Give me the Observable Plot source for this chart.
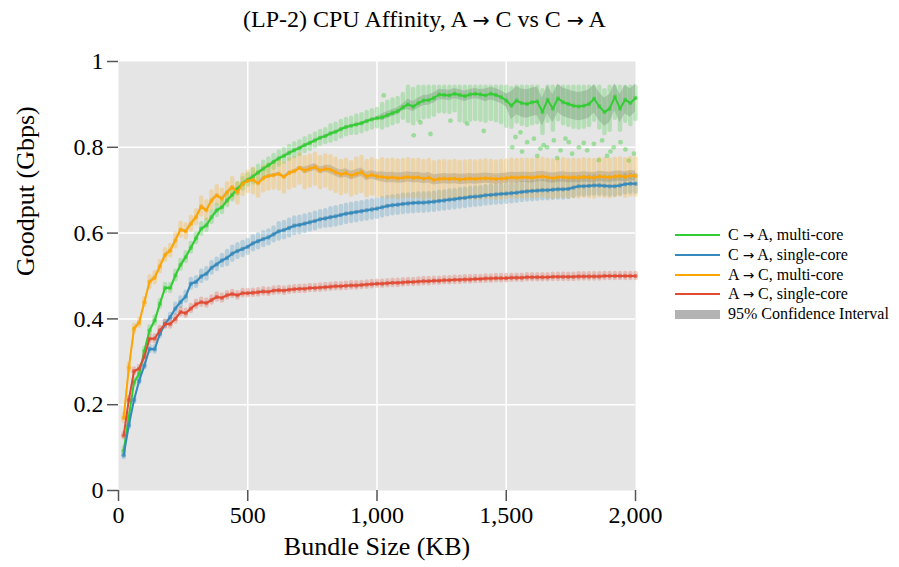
<!DOCTYPE html>
<html>
<head>
<meta charset="utf-8">
<script src="https://cdn.jsdelivr.net/npm/d3@7"></script>
<script src="https://cdn.jsdelivr.net/npm/@observablehq/plot@0.6"></script>
<style>
  body { margin: 0; background: #fff; }
  #wrap { position: relative; width: 899px; height: 567px; font-family: "Liberation Serif", serif; color: #000; }
  #title { height: 36px; padding-top: 4px; line-height: 30px; font-size: 24px; text-align: center; width: 517px; margin-left: 166px; white-space: nowrap; }
  #legend { position: absolute; left: 675px; top: 225px; font-size: 16px; }
  .row { position: absolute; left: 0; height: 20px; white-space: nowrap; }
  .sw { position: absolute; left: 0; top: 9px; width: 45px; height: 2px; }
  .lab { position: absolute; left: 53px; top: 0; line-height: 20px; }
  .arr { font-family: "DejaVu Sans", sans-serif; font-size: 0.85em; }
</style>
</head>
<body>
<div id="wrap">
  <div id="title"></div>
  <div id="chart"></div>
  <div id="legend"></div>
</div>
<script>
const titleText = "(LP-2) CPU Affinity, A → C vs C → A";

// Bundle sizes (KB)
const bundleSizes = [20,40,60,80,100,120,140,160,180,200,220,240,260,280,300,320,340,360,380,400,
  420,440,460,480,500,520,540,560,580,600,620,640,660,680,700,720,740,760,780,800,
  820,840,860,880,900,920,940,960,980,1000,1020,1040,1060,1080,1100,1120,1140,1160,1180,1200,
  1220,1240,1260,1280,1300,1320,1340,1360,1380,1400,1420,1440,1460,1480,1500,1520,1540,1560,1580,1600,
  1620,1640,1660,1680,1700,1720,1740,1760,1780,1800,1820,1840,1860,1880,1900,1920,1940,1960,1980,2000];

// Mean goodput (Gbps)
const caMultiMean = [0.093,0.171,0.252,0.272,0.325,0.373,0.396,0.435,0.472,0.472,0.501,0.526,0.544,0.566,0.588,0.610,0.618,0.637,0.653,0.660,
  0.676,0.689,0.703,0.715,0.724,0.732,0.741,0.750,0.758,0.766,0.774,0.780,0.787,0.793,0.798,0.805,0.810,0.816,0.822,0.826,
  0.832,0.836,0.842,0.847,0.850,0.853,0.856,0.861,0.865,0.868,0.870,0.875,0.880,0.884,0.893,0.900,0.895,0.903,0.909,0.910,
  0.915,0.923,0.922,0.921,0.925,0.922,0.919,0.923,0.925,0.923,0.921,0.925,0.922,0.917,0.909,0.897,0.909,0.903,0.901,0.905,
  0.907,0.882,0.911,0.890,0.914,0.905,0.901,0.897,0.895,0.897,0.901,0.913,0.895,0.882,0.890,0.918,0.890,0.911,0.903,0.915];
const caSingleMean = [0.082,0.152,0.211,0.256,0.291,0.330,0.329,0.365,0.388,0.404,0.424,0.439,0.452,0.482,0.486,0.499,0.505,0.519,0.527,0.536,
  0.542,0.552,0.558,0.563,0.568,0.576,0.581,0.586,0.590,0.597,0.604,0.607,0.612,0.617,0.619,0.622,0.625,0.628,0.632,0.634,
  0.637,0.639,0.642,0.645,0.647,0.649,0.651,0.653,0.655,0.657,0.660,0.663,0.665,0.666,0.668,0.669,0.670,0.671,0.671,0.672,
  0.673,0.675,0.676,0.678,0.679,0.681,0.682,0.684,0.685,0.686,0.688,0.689,0.690,0.691,0.692,0.693,0.694,0.696,0.697,0.698,
  0.699,0.700,0.700,0.701,0.702,0.702,0.703,0.706,0.709,0.709,0.710,0.711,0.711,0.710,0.709,0.709,0.711,0.714,0.715,0.715];
const acMultiMean = [0.169,0.286,0.377,0.391,0.439,0.486,0.496,0.522,0.549,0.559,0.583,0.608,0.604,0.622,0.637,0.662,0.653,0.676,0.688,0.680,
  0.695,0.707,0.695,0.715,0.722,0.724,0.716,0.728,0.733,0.735,0.738,0.731,0.740,0.744,0.752,0.746,0.750,0.754,0.746,0.750,
  0.748,0.742,0.737,0.740,0.734,0.738,0.742,0.732,0.736,0.732,0.731,0.729,0.730,0.728,0.729,0.731,0.729,0.730,0.727,0.729,
  0.724,0.726,0.727,0.726,0.727,0.725,0.726,0.727,0.726,0.727,0.728,0.727,0.726,0.727,0.728,0.730,0.729,0.730,0.730,0.729,
  0.731,0.732,0.730,0.728,0.730,0.731,0.729,0.730,0.729,0.731,0.730,0.729,0.732,0.731,0.730,0.732,0.733,0.731,0.734,0.733];
const acSingleMean = [0.128,0.211,0.278,0.284,0.312,0.354,0.354,0.373,0.388,0.388,0.400,0.416,0.413,0.424,0.434,0.439,0.437,0.444,0.451,0.449,
  0.455,0.458,0.455,0.460,0.460,0.461,0.462,0.464,0.463,0.466,0.467,0.466,0.468,0.469,0.470,0.470,0.472,0.472,0.473,0.474,
  0.475,0.476,0.476,0.477,0.478,0.478,0.479,0.480,0.481,0.482,0.482,0.483,0.484,0.484,0.485,0.486,0.486,0.487,0.488,0.488,
  0.489,0.489,0.490,0.490,0.491,0.491,0.492,0.492,0.493,0.493,0.494,0.494,0.495,0.495,0.495,0.496,0.496,0.496,0.497,0.497,
  0.497,0.497,0.497,0.498,0.498,0.498,0.498,0.498,0.499,0.499,0.499,0.499,0.499,0.500,0.500,0.500,0.500,0.500,0.500,0.500];

// Sample spread above / below the mean, per 100 KB bin
const caMultiHi = [0.006,0.008,0.010,0.012,0.012,0.015,0.015,0.015,0.018,0.020,0.030,0.040,0.040,0.040,0.040,0.040,0.050,0.050,0.050,0.050];
const caMultiLo = [0.006,0.008,0.010,0.012,0.012,0.015,0.015,0.015,0.018,0.020,0.025,0.040,0.040,0.060,0.060,0.050,0.050,0.050,0.050,0.050];
const caMultiCap = 0.94;
const caSingleHi = [0.005,0.006,0.010,0.012,0.015,0.015,0.018,0.018,0.020,0.020,0.020,0.020,0.020,0.020,0.020,0.020,0.020,0.020,0.020,0.020];
const caSingleLo = [0.005,0.006,0.010,0.012,0.015,0.015,0.018,0.018,0.020,0.020,0.020,0.020,0.020,0.020,0.020,0.020,0.020,0.020,0.020,0.020];
const acMultiHi = [0.008,0.012,0.015,0.020,0.020,0.025,0.030,0.030,0.030,0.035,0.040,0.040,0.040,0.040,0.040,0.040,0.040,0.040,0.040,0.040];
const acMultiLo = [0.008,0.012,0.015,0.020,0.025,0.030,0.035,0.040,0.045,0.045,0.045,0.045,0.045,0.045,0.045,0.045,0.045,0.045,0.045,0.045];
const acSingleHi = [0.005,0.007,0.007,0.007,0.006,0.006,0.006,0.006,0.006,0.006,0.006,0.006,0.006,0.006,0.006,0.006,0.006,0.006,0.006,0.006];
const acSingleLo = [0.005,0.007,0.007,0.007,0.006,0.006,0.006,0.006,0.006,0.006,0.006,0.006,0.006,0.006,0.006,0.006,0.006,0.006,0.006,0.006];

// 95% confidence interval half-width per 100 KB bin
const caMultiCI = [0.003,0.003,0.003,0.003,0.003,0.003,0.003,0.003,0.003,0.003,0.008,0.012,0.012,0.012,0.015,0.033,0.033,0.033,0.033,0.033];
const caSingleCI = [0.003,0.003,0.003,0.003,0.003,0.003,0.003,0.003,0.003,0.003,0.003,0.003,0.003,0.003,0.003,0.003,0.003,0.003,0.003,0.003];
const acMultiCI = [0.004,0.004,0.004,0.004,0.004,0.004,0.004,0.008,0.010,0.010,0.012,0.012,0.012,0.012,0.012,0.012,0.012,0.012,0.012,0.012];
const acSingleCI = [0.002,0.002,0.002,0.002,0.002,0.002,0.002,0.002,0.002,0.002,0.002,0.002,0.002,0.002,0.002,0.002,0.002,0.002,0.002,0.002];

// Sparse low outliers of C -> A multi-core (x KB, goodput)
const caMultiOutX = [1026,1142,1168,1207,1284,1349,1413,1536,1555,1581,1607,1632,1658,1684,1710,1742,1781,1813,1839,1871,1916,1942,1974,1994,1561,1620,1697,1755,1800,1858,1903,1961,1523,1645,1729,1890];
const caMultiOutY = [0.921,0.828,0.858,0.831,0.862,0.855,0.838,0.824,0.835,0.812,0.820,0.797,0.800,0.816,0.793,0.812,0.800,0.793,0.808,0.816,0.800,0.812,0.769,0.785,0.790,0.780,0.775,0.785,0.810,0.770,0.790,0.795,0.800,0.805,0.820,0.780];

const seriesLabels = ["C → A, multi-core", "C → A, single-core", "A → C, multi-core", "A → C, single-core"];
const seriesColors = ["#32cd32", "#348abd", "#ffa500", "#e24a33"];
const ciLabel = "95% Confidence Interval";
const ciColor = "#b3b3b3";
const xTicks = [0, 500, 1000, 1500, 2000];
const yTicks = [0, 0.2, 0.4, 0.6, 0.8, 1];
const xLabel = "Bundle Size (KB)";
const yLabel = "Goodput (Gbps)";

const defs = [
  {mean: caMultiMean, hi: caMultiHi, lo: caMultiLo, ci: caMultiCI, cap: caMultiCap},
  {mean: caSingleMean, hi: caSingleHi, lo: caSingleLo, ci: caSingleCI, cap: 1},
  {mean: acMultiMean, hi: acMultiHi, lo: acMultiLo, ci: acMultiCI, cap: 1},
  {mean: acSingleMean, hi: acSingleHi, lo: acSingleLo, ci: acSingleCI, cap: 1}
];

const rows = [];
defs.forEach((d, s) => {
  bundleSizes.forEach((x, i) => {
    const b = Math.floor(i / 5);
    const m = d.mean[i];
    rows.push({s, series: seriesLabels[s], x, y: m,
      lo: m - d.lo[b], hi: Math.min(m + d.hi[b], d.cap),
      ciLo: m - d.ci[b], ciHi: Math.min(m + d.ci[b], d.cap + 0.008)});
  });
});
const outliers = caMultiOutX.map((x, i) => ({x, y: caMultiOutY[i]}));

const FF = "Liberation Serif";
const marks = [Plot.frame({fill: "#e5e5e5", stroke: "none"}),
  Plot.gridX([500, 1000, 1500], {stroke: "#fff", strokeOpacity: 1, strokeWidth: 1.5}),
  Plot.gridY([0.2, 0.4, 0.6, 0.8], {stroke: "#fff", strokeOpacity: 1, strokeWidth: 1.5})];

for (let s = 0; s < 4; s++) {
  marks.push(Plot.areaY(rows.filter(r => r.s === s), {x: "x", y1: "ciLo", y2: "ciHi", fill: ciColor, fillOpacity: 0.7}));
}
for (let s = 0; s < 4; s++) {
  marks.push(Plot.ruleX(rows.filter(r => r.s === s), {x: "x", y1: "lo", y2: "hi", stroke: seriesColors[s], strokeWidth: 4.5, strokeOpacity: 0.26, strokeLinecap: "round"}));
  if (s === 0) marks.push(Plot.dot(outliers, {x: "x", y: "y", r: 2.4, fill: seriesColors[0], fillOpacity: 0.4}));
}
for (let s = 0; s < 4; s++) {
  const rs = rows.filter(r => r.s === s);
  marks.push(Plot.dot(rs, {x: "x", y: "y", r: 2.2, fill: seriesColors[s], fillOpacity: 0.6}));
  marks.push(Plot.line(rs, {x: "x", y: "y", stroke: seriesColors[s], strokeWidth: 2}));
}

marks.push(Plot.axisY({ticks: yTicks, tickSize: 11, tickPadding: 4, tickFormat: d => String(d), fontSize: 24, fontFamily: FF,
  stroke: "#555", strokeWidth: 1.5, label: null}));
marks.push(Plot.axisX({ticks: xTicks, tickSize: 11, tickPadding: 4, tickFormat: d3.format(","), fontSize: 24, fontFamily: FF,
  stroke: "#555", strokeWidth: 1.5, label: null}));
marks.push(Plot.text([yLabel], {frameAnchor: "left", dx: -93, rotate: -90, fontSize: 26, fontFamily: FF, fill: "#000"}));
marks.push(Plot.text([xLabel], {frameAnchor: "bottom", dy: 64, fontSize: 26, fontFamily: FF, fill: "#000"}));

const chart = Plot.plot({
  width: 899, height: 527,
  marginTop: 21, marginBottom: 77, marginLeft: 118, marginRight: 264,
  x: {domain: [0, 2000]},
  y: {domain: [0, 1]},
  style: {fontFamily: FF, fontSize: "22px", color: "#000", background: "transparent"},
  marks
});
document.getElementById("chart").appendChild(chart);

function withArrows(el, text) {
  text.split("→").forEach((part, i) => {
    if (i > 0) { const a = document.createElement("span"); a.className = "arr"; a.textContent = "→"; el.appendChild(a); }
    el.appendChild(document.createTextNode(part));
  });
}
withArrows(document.getElementById("title"), titleText);

const leg = document.getElementById("legend");
const items = seriesLabels.map((l, i) => ({label: l, color: seriesColors[i], ci: false})).concat([{label: ciLabel, color: ciColor, ci: true}]);
items.forEach((it, i) => {
  const row = document.createElement("div");
  row.className = "row";
  row.style.top = (i * 19.8) + "px";
  const sw = document.createElement("div");
  sw.className = "sw";
  sw.style.background = it.color;
  if (it.ci) { sw.style.height = "9px"; sw.style.top = "6px"; }
  const lab = document.createElement("div");
  lab.className = "lab";
  withArrows(lab, it.label);
  row.appendChild(sw); row.appendChild(lab);
  leg.appendChild(row);
});
</script>
</body>
</html>
